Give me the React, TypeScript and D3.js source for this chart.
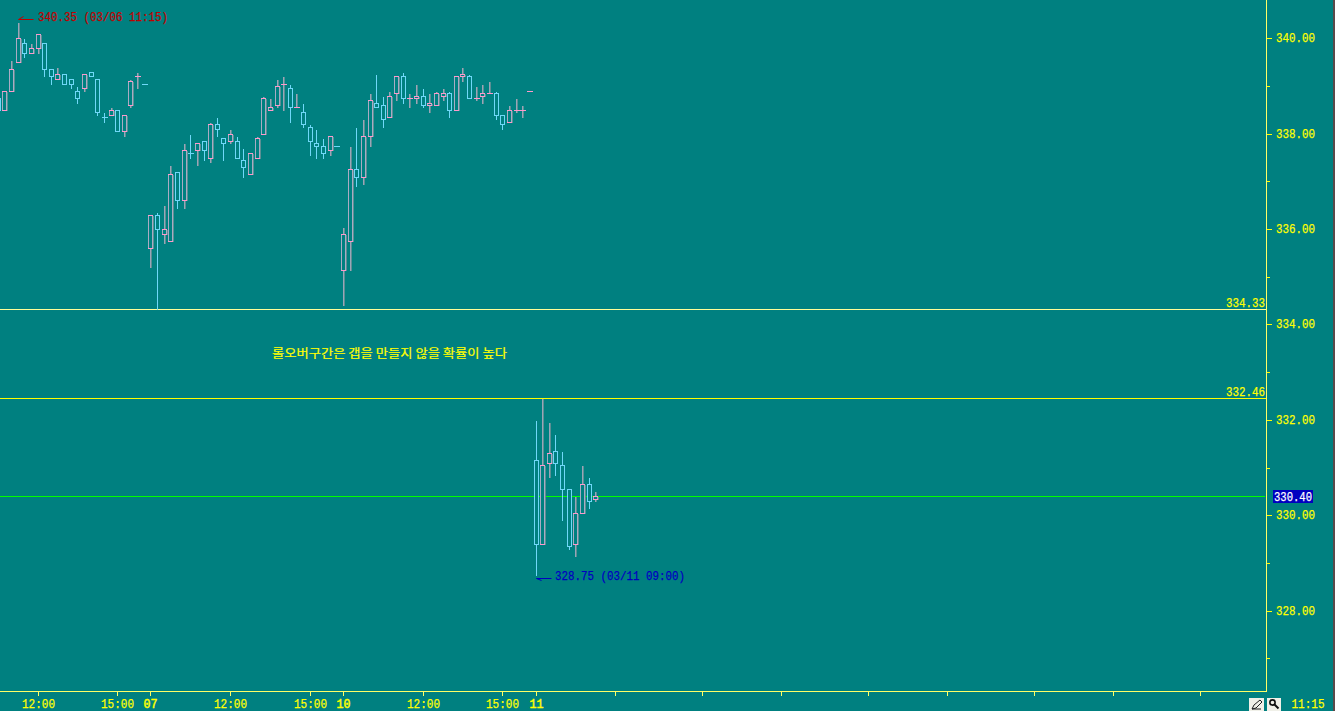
import React from "react";
import * as d3 from "d3";

// Bars are 15-minute candles. Index -1 is the partly hidden bar at the left edge.
const bodyTop = [338.75,338.9,339.35,340,339.9,339.8,340.1,339.9,339.35,339.25,339.25,339.15,338.9,339.25,339.3,339.15,338.35,338.5,338.5,338.4,339.1,339.2,339.05,
336.3,336.3,336,337.15,337.2,337.65,337.6,337.8,337.85,338.2,338.2,337.9,338,337.85,337.45,337.6,337.9,338.75,338.55,339,339.05,338.95,338.55,338.45,338.15,337.8,337.75,337.95,337.75,
335.9,337.25,337.25,337.95,338.7,338.65,338.6,338.8,339.2,339.2,338.75,338.8,338.8,338.65,338.85,338.85,338.85,339.2,339.25,339.2,338.75,338.85,338.85,338.85,338.4,338.5,338.5,338.5,338.9,
331.15,331.05,331.3,331.35,331.05,330.55,330.05,330.65,330.65,330.4];
const bodyBottom = [338.5,338.5,338.9,339.5,339.7,339.7,339.8,339.35,339.2,339.15,339.05,339.05,338.75,338.95,339.2,338.45,338.35,338.4,338.05,338.05,338.6,339.2,339.05,
335.6,336,335.9,335.75,336.6,336.6,337.6,337.65,337.65,337.5,338.1,337.8,337.85,337.5,337.3,337.15,337.5,338,338.5,338.6,339.05,338.55,338.55,338.2,337.85,337.75,337.6,337.65,337.75,
335.15,335.75,337.1,337.1,337.95,338.55,338.3,338.35,338.85,338.75,338.75,338.75,338.6,338.6,338.6,338.8,338.5,338.5,339.2,338.75,338.75,338.8,338.85,338.4,338.2,338.25,338.5,338.5,338.9,
329.4,329.4,331.1,331.1,330.55,329.35,329.4,330.05,330.3,330.35];
const highs = [338.75,338.9,339.55,340.35,340,339.9,340.1,339.9,339.35,339.4,339.25,339.15,339,339.25,339.3,339.15,338.45,338.55,338.5,338.4,339.15,339.3,339.05,
336.3,336.35,336.5,337.35,337.2,337.8,338,337.8,337.85,338.25,338.35,337.9,338.1,337.95,337.7,337.6,337.95,338.8,338.75,339.15,339.2,339.05,338.85,338.65,338.2,338.1,337.9,337.95,337.75,
336.05,337.75,338.15,338.3,338.85,339.25,338.8,338.9,339.2,339.3,338.85,339.05,338.95,338.85,338.9,338.95,338.9,339.2,339.4,339.25,339,339.05,339.1,338.9,338.4,338.6,338.75,338.6,338.9,
332,332.46,331.95,331.7,331.35,330.55,330.4,331.05,330.8,330.5];
const lows = [338.5,338.5,338.9,339.5,339.6,339.7,339.7,339.2,339.05,339.15,339.05,338.95,338.65,338.9,339.2,338.4,338.25,338.4,338.05,337.95,338.55,338.95,339.05,
335.2,334.33,335.7,335.75,336.45,336.45,337.5,337.35,337.45,337.4,337.95,337.45,337.8,337.5,337.1,337.15,337.5,338,338.5,338.55,338.5,338.25,338.55,338.15,337.55,337.5,337.5,337.55,337.75,
334.4,335.15,336.9,336.95,337.75,338.55,338.15,338.35,338.7,338.65,338.55,338.65,338.55,338.45,338.6,338.7,338.35,338.5,339.1,338.75,338.7,338.65,338.85,338.3,338.1,338.25,338.45,338.35,338.9,
328.75,329.4,330.8,330.85,329.9,329.3,329.15,330.05,330.15,330.3];
// u = rising (pink), d = falling (light blue)
const dirList: string[] = [
  "d","u","u","u","d","u","u","d","d","u","d","d","d","u","d","d","d","u","d","u","u","u","d",
  "u","d","u","u","d","u","d","u","d","u","d","d","u","d","d","u","u","u","u","u","u","d","u","d","d","d","d","u","d",
  "u","u","d","u","u","d","d","u","u","d","u","u","d","u","u","u","d","u","u","d","u","u","u","d","d","u","u","u","u",
  "d","u","u","d","d","d","u","u","d","u",
];
const firstBarIndex = -1;

const priceTicks = [340, 338, 336, 334, 332, 330, 328];
const minorPriceTicks = [339, 337, 335, 333, 331, 329, 327];
const timeLabels: [number, string, boolean][] = [
  [5, "12:00", false], [17, "15:00", false], [22, "07", true], [34, "12:00", false], [46, "15:00", false],
  [51, "10", true], [63, "12:00", false], [75, "15:00", false], [80, "11", true],
];
const extraTimeTicks = [92, 105, 117, 130, 142, 155, 167, 180];
const resistance = 334.33;
const support = 332.46;
const current = 330.4;
const highNote = { price: 340.35, index: 2, text: "340.35 (03/06 11:15)" };
const lowNote = { price: 328.75, index: 80, text: "328.75 (03/11 09:00)" };
const comment = "롤오버구간은 갭을 만들지 않을 확률이 높다";

const BG = "#008080";
const YEL = "#ffff00";
const AXIS = "#ffff66";
const PINK = "#ff99cc";
const PINK_SIDE = "#a9acc4";
const PINK_WICK = "#9aa6b8";
const SHADE = "#5c8f94";
const BLUE = "#70d8f8";
const W = 1335, H = 711, AX = 1266, AY = 691;
const FONT = "'Liberation Mono', 'DejaVu Sans Mono', monospace";

const yS = d3.scaleLinear().domain([340, 330]).range([38.3, 515.3]);
const xS = d3.scaleLinear().domain([0, 80]).range([4.3, 535.5]);
const px = (i: number) => Math.round(xS(i)) + 0.5;
const py = (p: number) => Math.round(yS(p)) + 0.5;

function Label({ x, y, w, children, fill = YEL, anchor = "start", size = 13, bold = false }: any) {
  return (
    <text x={x} y={y} fill={fill} stroke={fill} strokeWidth={bold ? 0.5 : 0.25} fontFamily={FONT} fontSize={size}
      textAnchor={anchor} textLength={w} lengthAdjust="spacingAndGlyphs">{children}</text>
  );
}

function Candle({ k }: { k: number }) {
  const i = k + firstBarIndex;
  const up = dirList[k] === "u";
  const x = px(i);
  const t = py(bodyTop[k]), b = py(bodyBottom[k]);
  const hi = py(highs[k]), lo = py(lows[k]);
  const wick = up ? PINK_WICK : BLUE;
  const edge = up ? PINK : BLUE;
  const side = up ? PINK_SIDE : BLUE;
  return (
    <g>
      {up && hi !== lo && <line x1={x + 1} x2={x + 1} y1={hi} y2={lo} stroke={SHADE} />}
      <line x1={x} x2={x} y1={hi} y2={lo} stroke={wick} />
      {t === b ? (
        <line x1={x - 3} x2={x + 3} y1={t} y2={t} stroke={edge} />
      ) : (
        <g>
          <rect x={x - 2} y={t} width={4} height={b - t} fill={BG} stroke="none" />
          {up && <line x1={x + 3} x2={x + 3} y1={t} y2={b} stroke={SHADE} />}
          <line x1={x - 2} x2={x - 2} y1={t} y2={b} stroke={side} />
          <line x1={x + 2} x2={x + 2} y1={t} y2={b} stroke={side} />
          <line x1={x - 2.5} x2={x + 2.5} y1={t} y2={t} stroke={edge} />
          <line x1={x - 2.5} x2={x + 2.5} y1={b} y2={b} stroke={edge} />
        </g>
      )}
    </g>
  );
}

function Arrow({ x, y, dy, color }: { x: number; y: number; dy: number; color: string }) {
  return (
    <path d={`M${x} ${y}H${x + 15}M${x} ${y}L${x + 5} ${y + dy}`} stroke={color} fill="none" />
  );
}

const fmt = (p: number) => p.toFixed(2);

export default function App() {
  return (
    <svg width={W} height={H} viewBox={`0 0 ${W} ${H}`}
      style={{ position: "absolute", left: 0, top: 0, display: "block", background: BG }}>
      <rect width={W} height={H} fill={BG} />
      <rect x={1333} y={0} width={2} height={H} fill="#5a4a4a" />

      <g shapeRendering="crispEdges">
        <line x1={0} x2={AX} y1={py(resistance)} y2={py(resistance)} stroke="#ffff99" />
        <line x1={0} x2={AX} y1={py(support)} y2={py(support)} stroke={YEL} />
        <line x1={0} x2={AX - 1} y1={py(current)} y2={py(current)} stroke="#00ff00" />
        {bodyTop.map((_, k) => <Candle key={k} k={k} />)}

        <line x1={AX + 0.5} x2={AX + 0.5} y1={0} y2={AY + 1} stroke={AXIS} />
        <line x1={0} x2={AX + 1} y1={AY + 0.5} y2={AY + 0.5} stroke={AXIS} />
        {priceTicks.map(p => <line key={p} x1={AX + 1} x2={AX + 6} y1={py(p)} y2={py(p)} stroke={YEL} />)}
        {minorPriceTicks.map(p => <line key={p} x1={AX + 1} x2={AX + 4} y1={py(p)} y2={py(p)} stroke={YEL} />)}
        {timeLabels.map(([i]) => <line key={i} x1={px(i)} x2={px(i)} y1={AY + 1} y2={AY + 5} stroke={AXIS} />)}
        {extraTimeTicks.map(i => <line key={i} x1={px(i)} x2={px(i)} y1={AY + 1} y2={AY + 5} stroke={AXIS} />)}
      </g>

      {priceTicks.map(p => (
        <Label key={p} x={1276} y={py(p) + 3} w={39}>{fmt(p)}</Label>
      ))}
      <Label x={1226} y={py(resistance) - 3} w={39}>{fmt(resistance)}</Label>
      <Label x={1226} y={py(support) - 3} w={39}>{fmt(support)}</Label>
      <rect x={1273} y={490} width={40} height={13} fill="#0000c0" />
      <Label x={1274} y={501} w={38} fill="#ffffff">{fmt(current)}</Label>

      {timeLabels.map(([i, t, bold]) => (
        <Label key={i} x={px(i)} y={708} w={bold ? 14 : 33} anchor="middle" bold={bold}>{t}</Label>
      ))}
      <Label x={1308} y={708} w={33} anchor="middle">11:15</Label>

      <Arrow x={px(highNote.index)} y={19.5} dy={-3} color="#c00000" />
      <Label x={38} y={21} w={130} fill="#c00000">{highNote.text}</Label>
      <Arrow x={px(lowNote.index)} y={578.5} dy={2} color="#0000c0" />
      <Label x={555} y={580} w={130} fill="#0000c0">{lowNote.text}</Label>

      <text x={272} y={358} fill={YEL} stroke={YEL} strokeWidth={0.2} fontFamily="'Noto Sans CJK KR', sans-serif" fontSize={12}
        textLength={235} lengthAdjust="spacingAndGlyphs">{comment}</text>

      <g>
        <rect x={1249} y={698} width={15} height={13} fill="#f0f0e8" />
        <path d="M1252 709l2-4 6-5 2 2-6 6z M1252 709h9" fill="none" stroke="#202020" />
        <rect x={1267} y={698} width={14} height={13} fill="#f0f0e8" />
        <circle cx={1272.5} cy={702.5} r={2.6} fill="none" stroke="#101010" strokeWidth={1.6} />
        <path d="M1274.5 704.5L1278.5 708.5" stroke="#101010" strokeWidth={2} />
      </g>
    </svg>
  );
}
